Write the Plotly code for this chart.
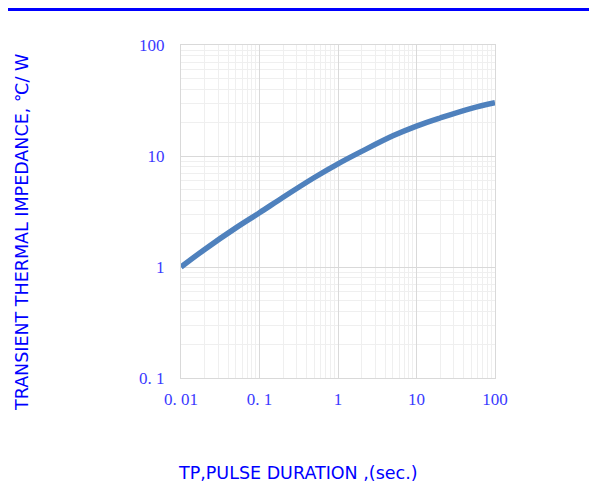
import plotly.graph_objects as go

pulse_duration = [0.01, 0.02, 0.05, 0.1, 0.2, 0.5, 1, 2, 5, 10, 20, 50, 100]
impedance = [1.0, 1.44, 2.25, 3.08, 4.25, 6.4, 8.5, 11.0, 15.2, 18.6, 22.0, 26.9, 30.2]

x_ticks = [0.01, 0.1, 1, 10, 100]
x_ticktext = ["0. 01", "0. 1", "1", "10", "100"]
y_ticks = [0.1, 1, 10, 100]
y_ticktext = ["0. 1", "1", "10", "100"]

minor_x = [m * d for d in [0.01, 0.1, 1, 10] for m in range(2, 10)]
minor_y = [m * d for d in [0.1, 1, 10] for m in range(2, 10)]

blue = "#0000ff"
tick_color = "#3a3aff"

fig = go.Figure()
fig.add_trace(go.Scatter(
    x=pulse_duration, y=impedance, mode="lines",
    line=dict(color="#4f81bd", width=5.5, shape="spline", smoothing=1),
    hoverinfo="skip", showlegend=False,
))

axis_common = dict(
    type="log", showline=True, linecolor="#d9d9d9", linewidth=1, mirror=True,
    showgrid=True, gridcolor="#d9d9d9", gridwidth=1, zeroline=False,
    ticks="", tickfont=dict(family="Liberation Serif", size=17, color=tick_color),
)

fig.update_xaxes(
    range=[-2, 2], tickvals=x_ticks, ticktext=x_ticktext, ticklabelstandoff=6,
    minor=dict(tickvals=minor_x, showgrid=True, gridcolor="#efefef", gridwidth=1),
    **axis_common,
)
fig.update_yaxes(
    range=[-1, 2], tickvals=y_ticks, ticktext=y_ticktext, ticklabelstandoff=12,
    minor=dict(tickvals=minor_y, showgrid=True, gridcolor="#efefef", gridwidth=1),
    **axis_common,
)

# page body has an 8px offset; figure sized to fit the window
OFF = 8
W, H = 597 - OFF, 484 - OFF
L, T = 181 - OFF, 45 - OFF
R = W - (495 - OFF)
B = H - (378 - OFF)
pw, ph = W - L - R, H - T - B

def px_x(x):
    return (x - OFF - L) / pw

def px_y(y):
    return (H - B - (y - OFF)) / ph

fig.add_shape(type="line", xref="paper", yref="paper",
              x0=px_x(0), x1=px_x(600), y0=px_y(9.5), y1=px_y(9.5),
              line=dict(color=blue, width=3))

fig.add_annotation(text="TRANSIENT THERMAL IMPEDANCE, ℃/ W", xref="paper", yref="paper",
                   x=px_x(22), y=px_y(233), textangle=-90, showarrow=False,
                   font=dict(family="DejaVu Sans", size=17.5, color=blue),
                   xanchor="center", yanchor="middle")
fig.add_annotation(text="TP,PULSE DURATION ,(sec.)", xref="paper", yref="paper",
                   x=px_x(298), y=px_y(473), showarrow=False,
                   font=dict(family="DejaVu Sans", size=17.5, color=blue),
                   xanchor="center", yanchor="middle")

fig.update_layout(
    width=W, height=H, margin=dict(l=L, r=R, t=T, b=B),
    paper_bgcolor="white", plot_bgcolor="white",
)

fig.write_html("out.html")
